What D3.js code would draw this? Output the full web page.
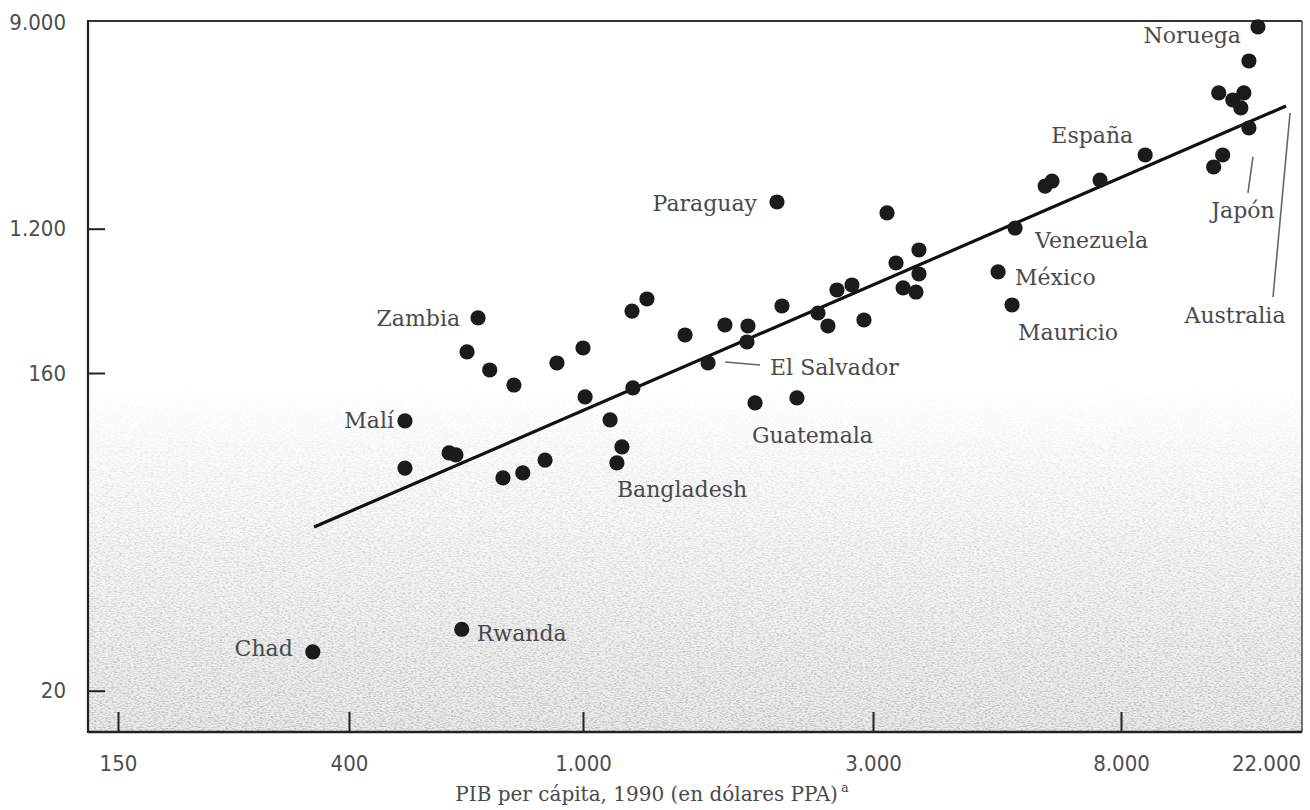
<!DOCTYPE html>
<html><head><meta charset="utf-8">
<script src="https://cdn.jsdelivr.net/npm/d3@7"></script>
<style>body{margin:0;background:#fff} svg{display:block}</style>
</head><body><svg id="c" width="1310" height="810"></svg>
<script>
// ---- data ----
const xTicks = [150, 400, 1000, 3000, 8000, 22000];
const yTicks = [20, 160, 1200, 9000];
const countries = ["Chad","Rwanda","Malí","","","","","","","Zambia","","","","","","","","","Bangladesh","","","","","El Salvador","","","","Paraguay","","Guatemala","","","","","","","","","","","","","Venezuela","México","Mauricio","","","","España","","","Japón","","","","","","Noruega"];
const gdp = [343,622,498,498,592,608,731,790,862,663,635,694,763,903,1000,1008,1108,1159,1137,1208,1204,1274,1472,1606,1712,1868,1861,2085,2125,1919,2249,2436,2529,2617,2770,2899,3171,3286,3379,3556,3598,3598,5262,4920,5199,5925,6090,7364,9470,15270,16260,19530,15820,17450,18850,18460,19530,20800];
const yVals = [25.8,29.9,116.9,85.9,94.8,93.6,80.5,83.2,90.5,345,214.6,166.9,147.9,184,226.9,136.8,117.7,98.6,88.8,145.1,380,449.8,272,184,312.8,308.5,246.7,1557,407.9,131.5,135.9,369.8,308.5,510,546.9,335.4,1399,743.5,524.5,495.8,891.5,637.6,1208,655.8,413.6,1819,1910,1929,2462,2190,2462,3203,4506,4208,4506,3893,6155,8574];
const fitX = [345, 25300];
const fitY = [58.4, 3970];
const xTitle = "PIB per cápita, 1990 (en dólares PPA)";

// ---- layout ----
const L = 88, R = 1302, T = 21, B = 732;
const svg = d3.select("#c");
const x = d3.scaleLog().domain(xTicks).range([118, 349, 583, 873, 1121, 1266]);
const y = d3.scaleLog().domain(yTicks).range([690.7, 373, 228.7, 22]);
const loc = d3.formatLocale({decimal: ",", thousands: ".", grouping: [3], currency: ["", ""]});
const fmt = loc.format(",");
const serif = "'DejaVu Serif', serif";
const sans = "'DejaVu Sans Condensed', 'DejaVu Sans', sans-serif";

// scan grain in lower part of plot
const defs = svg.append("defs");
const g2 = defs.append("linearGradient").attr("id","shade").attr("gradientUnits","userSpaceOnUse")
  .attr("x1",0).attr("y1",380).attr("x2",0).attr("y2",B);
g2.append("stop").attr("offset",0).attr("stop-color","#000").attr("stop-opacity",0);
g2.append("stop").attr("offset",0.4).attr("stop-color","#000").attr("stop-opacity",0.03);
g2.append("stop").attr("offset",1).attr("stop-color","#000").attr("stop-opacity",0.08);
const mg = defs.append("linearGradient").attr("id","mg").attr("gradientUnits","userSpaceOnUse")
  .attr("x1",0).attr("y1",380).attr("x2",0).attr("y2",B);
mg.append("stop").attr("offset",0).attr("stop-color","#000");
mg.append("stop").attr("offset",0.35).attr("stop-color","#666");
mg.append("stop").attr("offset",1).attr("stop-color","#fff");
defs.append("mask").attr("id","m").append("rect")
  .attr("x",L).attr("y",380).attr("width",R-L).attr("height",B-380).attr("fill","url(#mg)");
const f = defs.append("filter").attr("id","grain").attr("x",0).attr("y",0).attr("width","100%").attr("height","100%");
f.append("feTurbulence").attr("type","fractalNoise").attr("baseFrequency","0.35 0.8").attr("numOctaves",3).attr("seed",7);
f.append("feColorMatrix").attr("type","matrix")
  .attr("values","0 0 0 0 0.45  0 0 0 0 0.45  0 0 0 0 0.45  3.2 0 0 0 -1.35");

svg.append("rect").attr("x",L).attr("y",380).attr("width",R-L).attr("height",B-380).attr("fill","url(#shade)");
svg.append("rect").attr("x",L).attr("y",380).attr("width",R-L).attr("height",B-380)
  .attr("filter","url(#grain)").attr("mask","url(#m)").attr("opacity",0.75);

// axes
const xa = svg.append("g").attr("transform",`translate(0,${B})`)
  .call(d3.axisBottom(x).tickValues(xTicks).tickFormat(fmt).tickSize(-20).tickPadding(23));
xa.select(".domain").remove();
xa.selectAll(".tick line").attr("stroke","#222").attr("stroke-width",2)
  .attr("opacity", d => d === 22000 ? 0 : 1);
xa.selectAll(".tick text").attr("font-family",sans).attr("font-size",22).attr("fill","#4d4d4d");

const ya = svg.append("g").attr("transform",`translate(${L},0)`)
  .call(d3.axisLeft(y).tickValues(yTicks).tickFormat(fmt).tickSize(-17).tickPadding(22));
ya.select(".domain").remove();
ya.selectAll(".tick line").attr("stroke","#222").attr("stroke-width",2)
  .attr("opacity", d => d === 9000 ? 0 : 1);
ya.selectAll(".tick text").attr("font-family",sans).attr("font-size",22).attr("fill","#4d4d4d");

// frame
svg.append("line").attr("x1",L).attr("x2",R).attr("y1",T).attr("y2",T).attr("stroke","#333").attr("stroke-width",2);
svg.append("line").attr("x1",R).attr("x2",R).attr("y1",T).attr("y2",B).attr("stroke","#555").attr("stroke-width",1.6);
svg.append("line").attr("x1",L).attr("x2",L).attr("y1",T-1).attr("y2",B+1).attr("stroke","#222").attr("stroke-width",2.2);
svg.append("line").attr("x1",L).attr("x2",R).attr("y1",B).attr("y2",B).attr("stroke","#222").attr("stroke-width",2.6);

// regression line
const fit = fitX.map((v,i)=>[v, fitY[i]]);
svg.append("path").datum(fit)
  .attr("d", d3.line().x(d=>x(d[0])).y(d=>y(d[1])))
  .attr("stroke","#111").attr("stroke-width",3.2).attr("fill","none");

// points
const pts = gdp.map((v,i)=>({name: countries[i], gx: v, gy: yVals[i]}));
svg.append("g").selectAll("circle").data(pts).join("circle")
  .attr("cx", d=>x(d.gx)).attr("cy", d=>y(d.gy)).attr("r",7.6).attr("fill","#1b1b1b");

// labels
const labelPos = {
  "Chad": {dx:-20, dy:4, anchor:"end"},
  "Rwanda": {dx:15, dy:12, anchor:"start"},
  "Malí": {dx:-11, dy:7, anchor:"end"},
  "Zambia": {dx:-18, dy:8, anchor:"end"},
  "Bangladesh": {dx:0, dy:34, anchor:"start"},
  "El Salvador": {dx:62, dy:12, anchor:"start", leader:[17,-1,52,2]},
  "Paraguay": {dx:-20, dy:9, anchor:"end"},
  "Guatemala": {dx:-3, dy:40, anchor:"start"},
  "Venezuela": {dx:20, dy:20, anchor:"start"},
  "México": {dx:17, dy:13, anchor:"start"},
  "Mauricio": {dx:6, dy:35, anchor:"start"},
  "España": {dx:-12, dy:-12, anchor:"end"},
  "Japón": {dx:-6, dy:90, anchor:"middle", leader:[4,29,-1,65]},
  "Noruega": {dx:-17, dy:16, anchor:"end"}
};
const ann = pts.filter(d=>d.name).map(d=>({name:d.name, px:x(d.gx), py:y(d.gy), ...labelPos[d.name]}));
ann.push({name:"Australia", px:x(fitX[1]), py:y(fitY[1]), dx:-51, dy:217, anchor:"middle", leader:[4,7,-13,191]});

const lg = svg.append("g");
lg.selectAll("line").data(ann.filter(d=>d.leader)).join("line")
  .attr("x1",d=>d.px+d.leader[0]).attr("y1",d=>d.py+d.leader[1])
  .attr("x2",d=>d.px+d.leader[2]).attr("y2",d=>d.py+d.leader[3])
  .attr("stroke","#666").attr("stroke-width",1.6);
lg.selectAll("text").data(ann).join("text")
  .attr("x",d=>d.px+d.dx).attr("y",d=>d.py+d.dy).attr("text-anchor",d=>d.anchor)
  .attr("font-family",serif).attr("font-size",22).attr("fill","#4a4a4a")
  .text(d=>d.name);

// x title
const tt = svg.append("text").attr("x",652).attr("y",801).attr("text-anchor","middle")
  .attr("font-family",serif).attr("font-size",20).attr("fill","#4a4a4a");
tt.append("tspan").text(xTitle);
tt.append("tspan").attr("font-size",13).attr("dy",-9).attr("dx",3).text("a");
</script></body></html>
